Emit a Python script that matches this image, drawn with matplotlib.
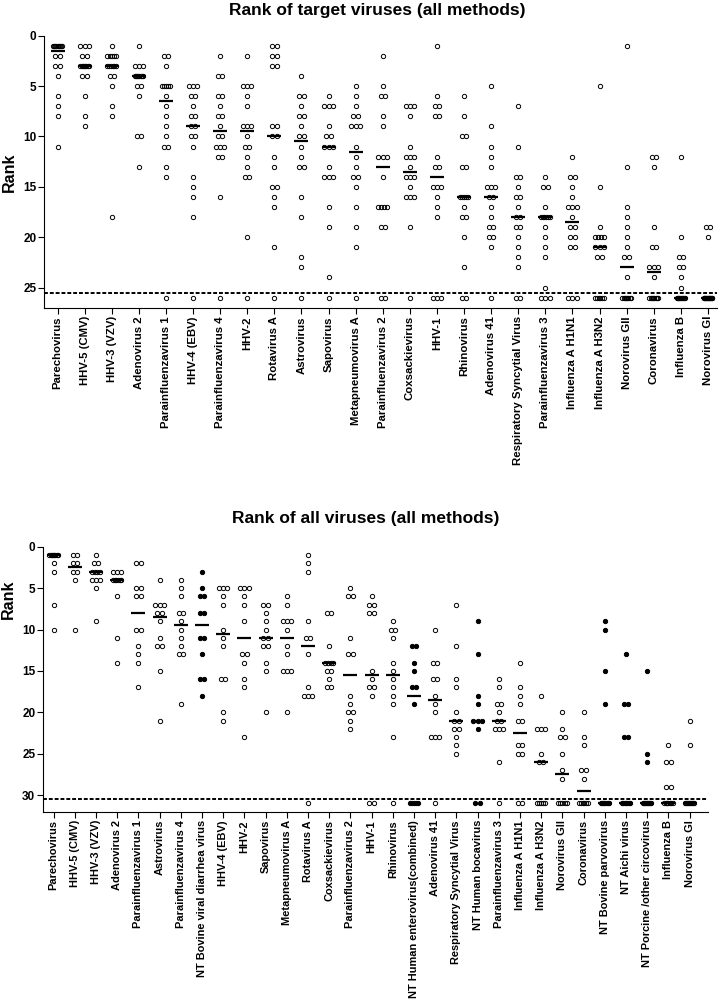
import numpy as np
import matplotlib
matplotlib.use("Agg")
import matplotlib.pyplot as plt

plt.rcParams['font.family'] = ['Liberation Sans', 'DejaVu Sans']
plt.rcParams['font.weight'] = 'bold'

W, H = 727, 1001

# ---- top panel: target viruses (26 = not detected) ----
top_names = ["Parechovirus", "HHV-5 (CMV)", "HHV-3 (VZV)", "Adenovirus 2",
             "Parainfluenzavirus 1", "HHV-4 (EBV)", "Parainfluenzavirus 4", "HHV-2",
             "Rotavirus A", "Astrovirus", "Sapovirus", "Metapneumovirus A",
             "Parainfluenzavirus 2", "Coxsackievirus", "HHV-1", "Rhinovirus",
             "Adenovirus 41", "Respiratory Syncytial Virus", "Parainfluenzavirus 3",
             "Influenza A H1N1", "Influenza A H3N2", "Norovirus GII", "Coronavirus",
             "Influenza B", "Norovirus GI"]
top_ranks = [
    [1]*9 + [2, 2, 3, 3, 4, 6, 7, 8, 11],
    [1, 1, 1, 2, 2] + [3]*8 + [4, 4, 6, 8, 9],
    [1] + [2]*5 + [3]*6 + [4, 4, 5, 7, 8, 18],
    [1, 3, 3, 3] + [4]*8 + [5, 5, 6, 10, 10, 13],
    [2, 2, 3] + [5]*5 + [6, 7, 8, 9, 10, 11, 11, 13, 14, 26],
    [5, 5, 5, 6, 6, 7, 8, 8, 9, 9, 10, 10, 11, 14, 15, 16, 18, 26],
    [2, 4, 4, 6, 6, 7, 8, 8, 9, 10, 10, 11, 11, 11, 12, 12, 16, 26],
    [2, 5, 5, 5, 6, 7, 9, 9, 9, 10, 11, 11, 12, 13, 14, 14, 20, 26],
    [1, 1, 2, 2, 3, 3, 9, 9, 10, 10, 12, 13, 15, 15, 16, 17, 21, 26],
    [4, 6, 6, 7, 8, 8, 9, 10, 10, 11, 12, 13, 13, 16, 18, 22, 23, 26],
    [6, 7, 7, 7, 9, 10, 10, 11, 11, 11, 13, 14, 14, 14, 17, 19, 24, 26],
    [5, 6, 7, 8, 8, 9, 9, 9, 11, 12, 13, 14, 14, 15, 17, 19, 21, 26],
    [2, 5, 6, 6, 8, 9, 12, 12, 12, 14, 17, 17, 17, 17, 19, 19, 26, 26],
    [7, 7, 7, 8, 11, 12, 12, 12, 13, 14, 14, 14, 15, 16, 16, 16, 19, 26],
    [1, 6, 7, 7, 8, 8, 12, 13, 13, 15, 15, 15, 16, 17, 18, 26, 26, 26],
    [6, 8, 10, 10, 13, 13, 16, 16, 16, 16, 16, 17, 18, 18, 20, 23, 26, 26],
    [5, 9, 11, 12, 13, 15, 15, 15, 16, 16, 17, 18, 19, 19, 20, 20, 21, 26],
    [7, 11, 14, 14, 15, 16, 16, 17, 18, 18, 19, 19, 20, 21, 22, 23, 26, 26],
    [14, 15, 15, 17, 18, 18, 18, 18, 18, 18, 19, 20, 21, 22, 25, 26, 26, 26],
    [12, 14, 14, 15, 16, 17, 17, 17, 18, 19, 19, 20, 20, 21, 21, 26, 26, 26],
    [5, 15, 19, 20, 20, 20, 20, 21, 21, 21, 22, 22, 26, 26, 26, 26, 26, 26],
    [1, 13, 17, 18, 19, 20, 21, 22, 22, 24] + [26]*8,
    [12, 12, 13, 19, 21, 21, 23, 23, 23, 24] + [26]*8,
    [12, 20, 22, 22, 23, 23, 24, 25] + [26]*10,
    [19, 19, 20] + [26]*15,
]
top_filled = [False]*len(top_names)

# ---- bottom panel: all viruses (31 = not detected), NT = non-target ----
bot_names = ["Parechovirus", "HHV-5 (CMV)", "HHV-3 (VZV)", "Adenovirus 2",
             "Parainfluenzavirus 1", "Astrovirus", "Parainfluenzavirus 4",
             "NT Bovine viral diarrhea virus", "HHV-4 (EBV)", "HHV-2", "Sapovirus",
             "Metapneumovirus A", "Rotavirus A", "Coxsackievirus", "Parainfluenzavirus 2",
             "HHV-1", "Rhinovirus", "NT Human enterovirus(combined)", "Adenovirus 41",
             "Respiratory Syncytial Virus", "NT Human bocavirus", "Parainfluenzavirus 3",
             "Influenza A H1N1", "Influenza A H3N2", "Norovirus GII", "Coronavirus",
             "NT Bovine parvovirus", "NT Aichi virus", "NT Porcine /other circovirus",
             "Influenza B", "Norovirus GI"]
bot_ranks = [
    [1]*8 + [2, 3, 7, 10],
    [1, 1, 2, 2, 3, 3, 4, 10],
    [1, 2, 2, 3, 3, 3, 3, 4, 4, 4, 5, 9],
    [3, 3, 3, 4, 4, 4, 4, 4, 4, 6, 11, 14],
    [2, 2, 5, 5, 6, 6, 10, 10, 12, 13, 14, 17],
    [4, 7, 7, 7, 8, 8, 9, 11, 12, 12, 15, 21],
    [4, 5, 6, 8, 8, 9, 10, 11, 12, 13, 13, 19],
    [3, 5, 6, 6, 8, 8, 11, 11, 13, 16, 16, 18],
    [5, 5, 5, 6, 7, 10, 11, 12, 16, 16, 20, 21],
    [5, 5, 5, 6, 7, 9, 13, 13, 14, 16, 17, 23],
    [7, 7, 8, 9, 10, 11, 11, 12, 12, 14, 15, 20],
    [6, 7, 9, 9, 9, 10, 12, 13, 15, 15, 15, 20],
    [1, 2, 3, 9, 11, 11, 13, 17, 18, 18, 18, 31],
    [8, 8, 12, 14, 14, 14, 14, 15, 15, 16, 17, 17],
    [5, 6, 6, 11, 13, 13, 18, 19, 20, 20, 21, 22],
    [6, 7, 7, 8, 8, 15, 16, 17, 17, 18, 31, 31],
    [9, 10, 10, 11, 14, 15, 16, 17, 18, 19, 23, 31],
    [12, 12, 14, 15, 17, 17, 19, 31, 31, 31, 31, 31],
    [10, 14, 14, 16, 16, 18, 19, 20, 23, 23, 23, 31],
    [7, 12, 16, 17, 20, 21, 21, 22, 22, 23, 24, 25],
    [9, 13, 18, 19, 21, 21, 21, 22, 31, 31],
    [16, 17, 19, 19, 20, 21, 21, 22, 22, 22, 26, 31],
    [14, 17, 18, 19, 21, 21, 24, 24, 25, 25, 31, 31],
    [18, 22, 22, 22, 25, 26, 26, 31, 31, 31, 31, 31],
    [20, 22, 23, 23, 25, 27, 28, 31, 31, 31, 31, 31],
    [20, 23, 24, 27, 27, 28, 31, 31, 31, 31, 31, 31],
    [9, 10, 15, 19] + [31]*8,
    [13, 19, 19, 23, 23] + [31]*7,
    [15, 25, 26] + [31]*9,
    [24, 26, 26, 29, 29] + [31]*7,
    [21, 24] + [31]*10,
]
bot_filled = [n.startswith("NT") for n in bot_names]


def box(left, top, right, bottom):
    return [left / W, 1 - bottom / H, (right - left) / W, (bottom - top) / H]


def panel(ax, names, ranks, filled, ylo, cut, yticks, xmax, width_px, lab_fs):
    n = len(names)
    ppx = width_px / (xmax + 0.5)   # pixels per category
    for i, vals in enumerate(ranks):
        vals = np.asarray(vals)
        for v in np.unique(vals):
            k = int((vals == v).sum())
            step = min(4.4, 8.5 / (k - 1)) if k > 1 else 0
            offs = (np.arange(k) - (k - 1) / 2) * step / ppx
            ax.plot(i + offs, [v] * k, 'o', ms=3.1, mew=0.7, mec='k',
                    mfc='k' if filled[i] else 'none', ls='none', clip_on=False)
        med = np.median(vals)
        ax.plot([i - 7 / ppx, i + 7 / ppx], [med, med], color='k', lw=1.6,
                solid_capstyle='butt')
    ax.axhline(cut, color='k', lw=1.4, ls=(0, (2, 1)))
    ax.set_xlim(-0.5, xmax)
    ax.set_ylim(ylo, 0)
    ax.set_xticks(range(n))
    ax.set_xticklabels(names, rotation=90, fontsize=lab_fs, fontweight='bold')
    ax.set_yticks(yticks)
    ax.set_yticklabels([str(t) for t in yticks], fontsize=8.5, fontweight='bold')
    for s in ['top', 'right']:
        ax.spines[s].set_visible(False)
    for s in ['left', 'bottom']:
        ax.spines[s].set_linewidth(0.8)
    ax.tick_params(axis='x', length=4, width=0.8, pad=2)
    ax.tick_params(axis='y', length=4, width=0.8, pad=1.5)


fig = plt.figure(figsize=(W / 100, H / 100), dpi=100)

ax1 = fig.add_axes(box(44, 35.7, 717.4, 307.7))
panel(ax1, top_names, top_ranks, top_filled, 27, 25.5, [0, 5, 10, 15, 20, 25],
      24.35, 717.4 - 44, 8.2)

ax2 = fig.add_axes(box(43, 546.7, 707.6, 811.7))
panel(ax2, bot_names, bot_ranks, bot_filled, 32, 30.5, [0, 5, 10, 15, 20, 25, 30],
      30.85, 707.6 - 43, 7.9)

fig.text(377 / W, 1 - 10 / H, "Rank of target viruses (all methods)", ha='center', va='center',
         fontsize=12.5, fontweight='bold')
fig.text(366 / W, 1 - 519 / H, "Rank of all viruses (all methods)", ha='center', va='center',
         fontsize=12.5, fontweight='bold')
fig.text(9 / W, 1 - 172 / H, "Rank", rotation=90, ha='center', va='center',
         fontsize=11.5, fontweight='bold')
fig.text(8 / W, 1 - 599 / H, "Rank", rotation=90, ha='center', va='center',
         fontsize=11.5, fontweight='bold')

fig.savefig("out.png", dpi=100)
